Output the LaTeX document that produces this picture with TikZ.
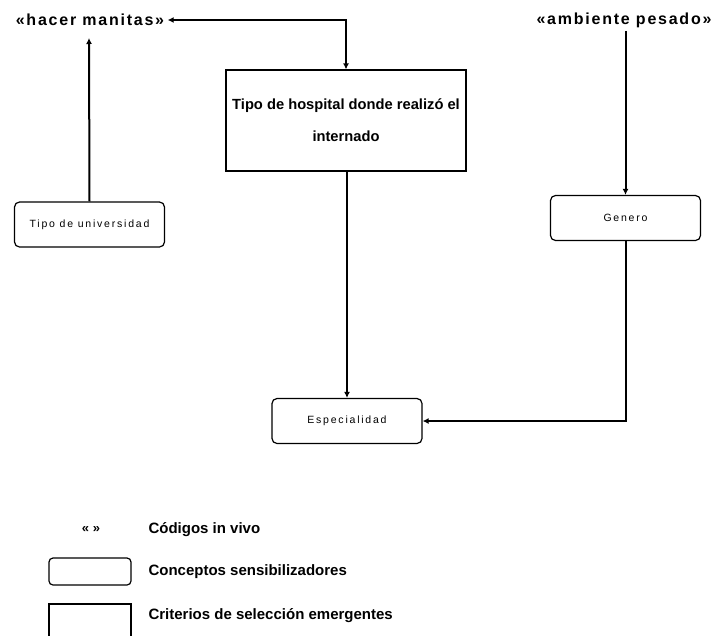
\documentclass[tikz,border=0pt]{standalone}
\usepackage{fontspec}
\setmainfont{Liberation Sans}
\newfontfamily\spacedfont[LetterSpace=17]{Liberation Sans}
\newfontfamily\widebold[LetterSpace=11]{Liberation Sans Bold}
\usetikzlibrary{arrows.meta}
\tikzset{
  concepto/.style={draw,line width=1.2pt,rounded corners=5pt,minimum width=150pt,minimum height=45pt,
    font=\spacedfont\fontsize{10.5}{12}\selectfont},
  criterio/.style={draw,line width=1.2pt,minimum width=240pt,minimum height=101pt,align=center,
    font=\bfseries\fontsize{14.7}{32}\selectfont},
  invivo/.style={font=\widebold\fontsize{16}{18}\selectfont},
  leyenda/.style={anchor=west,font=\bfseries\fontsize{15}{17}\selectfont},
  flecha/.style={line width=2pt,-{Latex[length=6pt,width=6pt]}}
}
\begin{document}
\begin{tikzpicture}[x=1pt,y=-1pt]
\useasboundingbox (0,0) rectangle (714,635);
% codigos in vivo
\node[invivo] (manitas) at (90,20) {«hacer manitas»};
\node[invivo] (pesado) at (624,20) {«ambiente pesado»};
% criterio
\node[criterio] (hospital) at (346,120.5) {Tipo de hospital donde realizó el\\internado};
% conceptos
\node[concepto] (universidad) at (89.5,224.5) {Tipo de universidad};
\node[concepto] (genero) at (625.5,218) {Genero};
\node[concepto] (especialidad) at (347,421) {Especialidad};
% flechas
\draw[flecha,{Latex[length=6pt,width=6pt]}-{Latex[length=6pt,width=6pt]}] (manitas.east) -| (hospital.north);
\draw[flecha] (universidad.north) -- (89,38);
\draw[flecha] (pesado.south -| genero.north) -- (genero.north);
\draw[flecha] (hospital.south -| especialidad.north) -- (especialidad.north);
\draw[flecha] (genero.south) |- (especialidad.east);
% leyenda
\node[font=\bfseries\fontsize{13}{15}\selectfont] (comillas) at (91,530) {« »};
\node[leyenda] (tvivo) at (145,530) {Códigos in vivo};
\node[draw,line width=1.2pt,rounded corners=4pt,minimum width=82pt,minimum height=27pt] (caja1) at (90,571.5) {};
\node[leyenda] (tsens) at (145,572) {Conceptos sensibilizadores};
\node[draw,line width=1.2pt,minimum width=82pt,minimum height=34pt] (caja2) at (90,621) {};
\node[leyenda] (tcrit) at (145,616) {Criterios de selección emergentes};
\end{tikzpicture}
\end{document}
